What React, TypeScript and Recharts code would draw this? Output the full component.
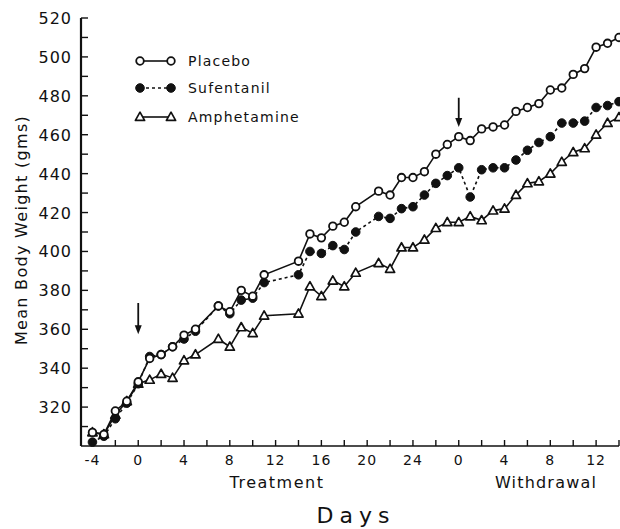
import React from 'react';
import { LineChart, Line, XAxis, YAxis, ReferenceLine, Legend } from 'recharts';

// day index: treatment days -4..27, withdrawal day w is index 28 + w
const days = [
  -4, -3, -2, -1, 0, 1, 2, 3, 4, 5, 7, 8, 9, 10, 11, 14, 15, 16, 17, 18, 19,
  21, 22, 23, 24, 25, 26, 27, 28, 29, 30, 31, 32, 33, 34, 35, 36, 37, 38, 39,
  40, 41, 42,
];
const placebo = [
  307, 306, 318, 323, 333, 345, 347, 351, 357, 360, 372, 369, 380, 377, 388,
  395, 409, 407, 413, 415, 423, 431, 429, 438, 438, 441, 450, 455, 459, 457,
  463, 464, 465, 472, 474, 476, 483, 484, 491, 494, 505, 507, 510,
];
const sufentanil = [
  302, 305, 314, 322, 332, 346, 347, 351, 355, 359, 372, 368, 375, 376, 384,
  388, 400, 399, 403, 401, 410, 418, 417, 422, 423, 429, 435, 439, 443, 428,
  442, 443, 443, 447, 452, 456, 459, 466, 466, 467, 474, 475, 477,
];
const amphetamine = [
  307, 306, 316, 323, 332, 334, 337, 335, 344, 347, 355, 351, 361, 358, 367,
  368, 382, 377, 385, 382, 389, 394, 391, 402, 402, 406, 412, 415, 415, 418,
  416, 421, 422, 429, 435, 436, 440, 446, 451, 453, 460, 466, 469,
];

const xTicks = [
  -4, -2, 0, 2, 4, 6, 8, 10, 12, 14, 16, 18, 20, 22, 24, 26, 28, 30, 32, 34,
  36, 38, 40, 42,
];
const yTicks = [
  300, 310, 320, 330, 340, 350, 360, 370, 380, 390, 400, 410, 420, 430, 440,
  450, 460, 470, 480, 490, 500, 510, 520,
];
const withdrawalStart = 28;

const data = days.map((day, i) => ({
  day,
  placebo: placebo[i],
  sufentanil: sufentanil[i],
  amphetamine: amphetamine[i],
}));

const FONT = '"DejaVu Sans", sans-serif';
const INK = '#111';

const OpenCircle = (p: any) => (
  <circle key={p.key} cx={p.cx} cy={p.cy} r={3.8} fill="#fff" stroke={INK} strokeWidth={1.8} />
);
const FilledCircle = (p: any) => (
  <circle key={p.key} cx={p.cx} cy={p.cy} r={4.3} fill={INK} stroke={INK} strokeWidth={1} />
);
const Triangle = (p: any) => (
  <polygon
    key={p.key}
    points={`${p.cx},${p.cy - 4.8} ${p.cx - 4.6},${p.cy + 3.4} ${p.cx + 4.6},${p.cy + 3.4}`}
    fill="#fff"
    stroke={INK}
    strokeWidth={1.7}
    strokeLinejoin="round"
  />
);

// ticks point inward, labels only on every 4th day
const XTick = ({ x, y, payload }: any) => {
  const v = payload.value;
  const label = v <= 24 ? v : v - withdrawalStart;
  return (
    <g>
      <line x1={x} y1={y} x2={x} y2={y - 6} stroke={INK} strokeWidth={1.4} />
      {v % 4 === 0 && (
        <text x={x} y={y + 19} textAnchor="middle" fontSize={14} letterSpacing={1} fill={INK} fontFamily={FONT}>
          {label}
        </text>
      )}
    </g>
  );
};

const YTick = ({ x, y, payload }: any) => {
  const v = payload.value;
  return (
    <g>
      {v > 300 && <line x1={x} y1={y} x2={x + 7} y2={y} stroke={INK} strokeWidth={1.4} />}
      {v >= 320 && v % 20 === 0 && (
        <text x={x - 9} y={y + 6} textAnchor="end" fontSize={16} letterSpacing={1} fill={INK} fontFamily={FONT}>
          {v}
        </text>
      )}
    </g>
  );
};

const Arrow = ({ x1, y1, x2, y2 }: any) => (
  <g>
    <line x1={x1} y1={y1} x2={x2} y2={y2 - 6} stroke={INK} strokeWidth={1.8} />
    <polygon points={`${x2},${y2} ${x2 - 3.5},${y2 - 9} ${x2 + 3.5},${y2 - 9}`} fill={INK} />
  </g>
);

const legendRows = [
  { name: 'Placebo', Mark: OpenCircle, dash: undefined },
  { name: 'Sufentanil', Mark: FilledCircle, dash: '3 3' },
  { name: 'Amphetamine', Mark: Triangle, dash: undefined },
];
const legendY = [16, 43, 72];

const LegendBox = () => (
  <svg width={200} height={90}>
    {legendRows.map((r, i) => (
      <g key={r.name}>
        <line x1={10} y1={legendY[i]} x2={41} y2={legendY[i]} stroke={INK} strokeWidth={1.6} strokeDasharray={r.dash} />
        <r.Mark cx={10} cy={legendY[i]} />
        <r.Mark cx={41} cy={legendY[i]} />
        <text x={58} y={legendY[i] + 5} fontSize={14} letterSpacing={1.2} fill={INK} fontFamily={FONT}>
          {r.name}
        </text>
      </g>
    ))}
  </svg>
);

export default function App() {
  return (
    <div style={{ position: 'absolute', left: 0, top: 0, background: '#fff' }}>
      <LineChart width={620} height={529} data={data} margin={{ top: 18, right: 1, left: 0, bottom: 53 }}>
        <XAxis
          type="number"
          dataKey="day"
          domain={[-5, 42]}
          ticks={xTicks}
          interval={0}
          tickSize={0}
          tickMargin={0}
          tickLine={false}
          tick={(p: any) => <XTick {...p} />}
          axisLine={{ stroke: INK, strokeWidth: 1.6 }}
          height={30}
        />
        <YAxis
          type="number"
          domain={[300, 520]}
          ticks={yTicks}
          interval={0}
          tickSize={0}
          tickMargin={0}
          tickLine={false}
          tick={(p: any) => <YTick {...p} />}
          axisLine={{ stroke: INK, strokeWidth: 2.2 }}
          width={81}
        />
        <Legend
          layout="vertical"
          align="center"
          verticalAlign="middle"
          wrapperStyle={{ left: 130, top: 45, width: 200, height: 90 }}
          content={() => <LegendBox />}
        />
        <ReferenceLine segment={[{ x: 0, y: 373.5 }, { x: 0, y: 357.5 }]} shape={(p: any) => <Arrow {...p} />} />
        <ReferenceLine segment={[{ x: 28, y: 479 }, { x: 28, y: 464 }]} shape={(p: any) => <Arrow {...p} />} />
        <Line
          type="linear"
          dataKey="amphetamine"
          name="Amphetamine"
          stroke={INK}
          strokeWidth={1.6}
          dot={Triangle}
          isAnimationActive={false}
        />
        <Line
          type="linear"
          dataKey="sufentanil"
          name="Sufentanil"
          stroke={INK}
          strokeWidth={1.6}
          strokeDasharray="3 3"
          dot={FilledCircle}
          isAnimationActive={false}
        />
        <Line
          type="linear"
          dataKey="placebo"
          name="Placebo"
          stroke={INK}
          strokeWidth={1.6}
          dot={OpenCircle}
          isAnimationActive={false}
        />
        <text x={27} y={230} transform="rotate(-90 27 230)" textAnchor="middle" fontSize={16} letterSpacing={1.3} fill={INK} fontFamily={FONT}>
          Mean Body Weight (gms)
        </text>
        <text x={277} y={488} textAnchor="middle" fontSize={16} letterSpacing={1.5} fill={INK} fontFamily={FONT}>
          Treatment
        </text>
        <text x={546} y={488} textAnchor="middle" fontSize={16} letterSpacing={1.2} fill={INK} fontFamily={FONT}>
          Withdrawal
        </text>
        <text x={356} y={523} textAnchor="middle" fontSize={22} letterSpacing={6} fill={INK} fontFamily={FONT}>
          Days
        </text>
      </LineChart>
    </div>
  );
}
